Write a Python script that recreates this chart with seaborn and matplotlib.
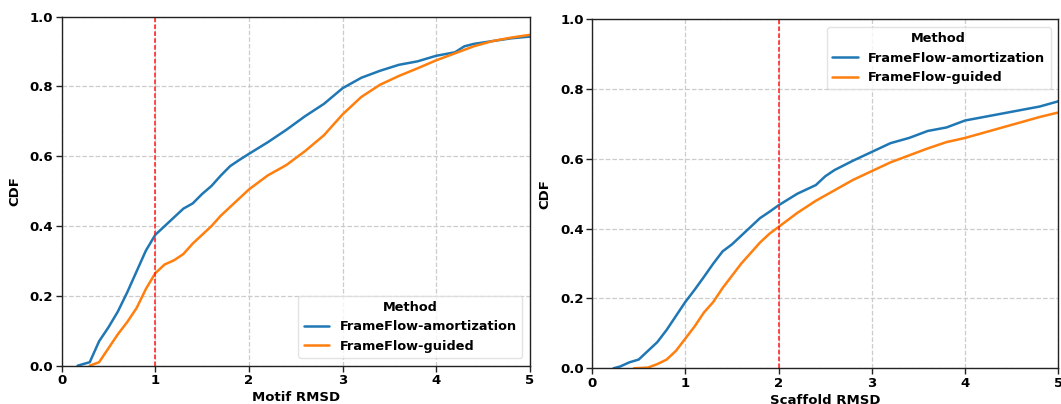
import numpy as np
import pandas as pd
import matplotlib
matplotlib.use("Agg")
import matplotlib.pyplot as plt
import seaborn as sns

# ---- data (CDF curves) ----
methods = ["FrameFlow-amortization", "FrameFlow-guided"]

motif_amort_x = [0.17, 0.30, 0.40, 0.50, 0.60, 0.70, 0.80, 0.90, 1.00, 1.10, 1.20, 1.30, 1.40, 1.50,
                 1.60, 1.70, 1.80, 1.90, 2.00, 2.20, 2.40, 2.60, 2.80, 3.00, 3.20, 3.40, 3.60, 3.80,
                 4.00, 4.20, 4.30, 4.40, 4.60, 4.80, 5.00]
motif_amort_y = [0.000, 0.010, 0.070, 0.110, 0.155, 0.210, 0.270, 0.330, 0.375, 0.400, 0.425, 0.450, 0.465, 0.492,
                 0.515, 0.545, 0.572, 0.590, 0.607, 0.640, 0.676, 0.715, 0.750, 0.795, 0.825, 0.845, 0.862, 0.872,
                 0.888, 0.898, 0.915, 0.922, 0.930, 0.938, 0.943]

motif_guided_x = [0.30, 0.40, 0.50, 0.60, 0.70, 0.80, 0.90, 1.00, 1.10, 1.20, 1.30, 1.40, 1.50, 1.60,
                  1.70, 1.80, 1.90, 2.00, 2.20, 2.40, 2.60, 2.80, 3.00, 3.20, 3.40, 3.60, 3.80, 4.00,
                  4.20, 4.40, 4.60, 4.80, 5.00]
motif_guided_y = [0.000, 0.010, 0.050, 0.090, 0.125, 0.165, 0.220, 0.265, 0.290, 0.302, 0.320, 0.350, 0.375, 0.400,
                  0.430, 0.455, 0.480, 0.505, 0.545, 0.575, 0.615, 0.660, 0.720, 0.770, 0.805, 0.830, 0.852, 0.875,
                  0.895, 0.915, 0.930, 0.940, 0.948]

scaf_amort_x = [0.23, 0.30, 0.40, 0.50, 0.60, 0.70, 0.80, 0.90, 1.00, 1.10, 1.20, 1.30, 1.40, 1.50,
                1.60, 1.70, 1.80, 1.90, 2.00, 2.20, 2.40, 2.50, 2.60, 2.80, 3.00, 3.20, 3.40, 3.60,
                3.80, 4.00, 4.20, 4.40, 4.60, 4.80, 5.00]
scaf_amort_y = [0.000, 0.005, 0.017, 0.025, 0.050, 0.075, 0.110, 0.150, 0.190, 0.225, 0.262, 0.300, 0.335, 0.355,
                0.380, 0.405, 0.430, 0.448, 0.467, 0.500, 0.525, 0.550, 0.568, 0.595, 0.620, 0.645, 0.660, 0.680,
                0.690, 0.710, 0.720, 0.730, 0.740, 0.750, 0.765]

scaf_guided_x = [0.45, 0.60, 0.70, 0.80, 0.90, 1.00, 1.10, 1.20, 1.30, 1.40, 1.50, 1.60, 1.70, 1.80,
                 1.90, 2.00, 2.20, 2.40, 2.60, 2.80, 3.00, 3.20, 3.40, 3.60, 3.80, 4.00, 4.20, 4.40,
                 4.60, 4.80, 5.00]
scaf_guided_y = [0.000, 0.002, 0.012, 0.025, 0.050, 0.085, 0.120, 0.160, 0.190, 0.230, 0.265, 0.300, 0.330, 0.360,
                 0.385, 0.405, 0.445, 0.480, 0.510, 0.540, 0.565, 0.590, 0.610, 0.630, 0.648, 0.660, 0.675, 0.690,
                 0.705, 0.720, 0.733]

x_ticks = [0, 1, 2, 3, 4, 5]
y_ticks = [0.0, 0.2, 0.4, 0.6, 0.8, 1.0]
thresholds = [1, 2]
xlabels = ["Motif RMSD", "Scaffold RMSD"]


def make_df(xa, ya, xg, yg):
    return pd.concat([
        pd.DataFrame({"x": xa, "CDF": ya, "Method": methods[0]}),
        pd.DataFrame({"x": xg, "CDF": yg, "Method": methods[1]}),
    ], ignore_index=True)


dfs = [make_df(motif_amort_x, motif_amort_y, motif_guided_x, motif_guided_y),
       make_df(scaf_amort_x, scaf_amort_y, scaf_guided_x, scaf_guided_y)]

sns.set_style("white")
plt.rcParams["font.family"] = ["DejaVu Sans"]
plt.rcParams["font.weight"] = "bold"
plt.rcParams["axes.labelweight"] = "bold"
plt.rcParams["text.color"] = "black"
plt.rcParams["axes.labelcolor"] = "black"
plt.rcParams["xtick.color"] = "black"
plt.rcParams["ytick.color"] = "black"

palette = {methods[0]: "#1f77b4", methods[1]: "#ff7f0e"}

fig = plt.figure(figsize=(10.61, 4.04), dpi=100)
positions = [[0.0581, 0.0948, 0.4413, 0.8639], [0.558, 0.0884, 0.4395, 0.8639]]
legend_locs = ["lower right", "upper right"]

for i in range(2):
    ax = fig.add_axes(positions[i])
    sns.lineplot(data=dfs[i], x="x", y="CDF", hue="Method", palette=palette,
                 linewidth=1.8, ax=ax, sort=True)
    ax.axvline(thresholds[i], color="#ff1a1a", linestyle=(0, (3.0, 1.5)), linewidth=1.1)
    ax.set_xlim(0, 5)
    ax.set_ylim(0, 1)
    ax.set_xticks(x_ticks)
    ax.set_yticks(y_ticks)
    ax.set_xticklabels([str(t) for t in x_ticks], fontsize=9.5, fontweight="bold")
    ax.set_yticklabels([f"{t:.1f}" for t in y_ticks], fontsize=9.5, fontweight="bold")
    ax.set_xlabel(xlabels[i], fontsize=9.5, fontweight="bold", labelpad=3)
    ax.set_ylabel("CDF", fontsize=9.5, fontweight="bold", labelpad=6)
    ax.grid(True, linestyle="--", color="#cccccc", linewidth=0.9)
    ax.tick_params(axis="both", direction="out", length=4, width=1, color="#222222", pad=2,
                   bottom=True, left=True)
    for s in ax.spines.values():
        s.set_color("#222222")
        s.set_linewidth(1.0)
    leg = ax.legend(title="Method", loc=legend_locs[i], fontsize=9.3, title_fontsize=9.3,
                    prop={"weight": "bold", "size": 9.3}, frameon=True, borderaxespad=0.6)
    leg.get_title().set_fontweight("bold")
    leg.get_frame().set_edgecolor("#dddddd")

fig.savefig("out.png", dpi=100)
